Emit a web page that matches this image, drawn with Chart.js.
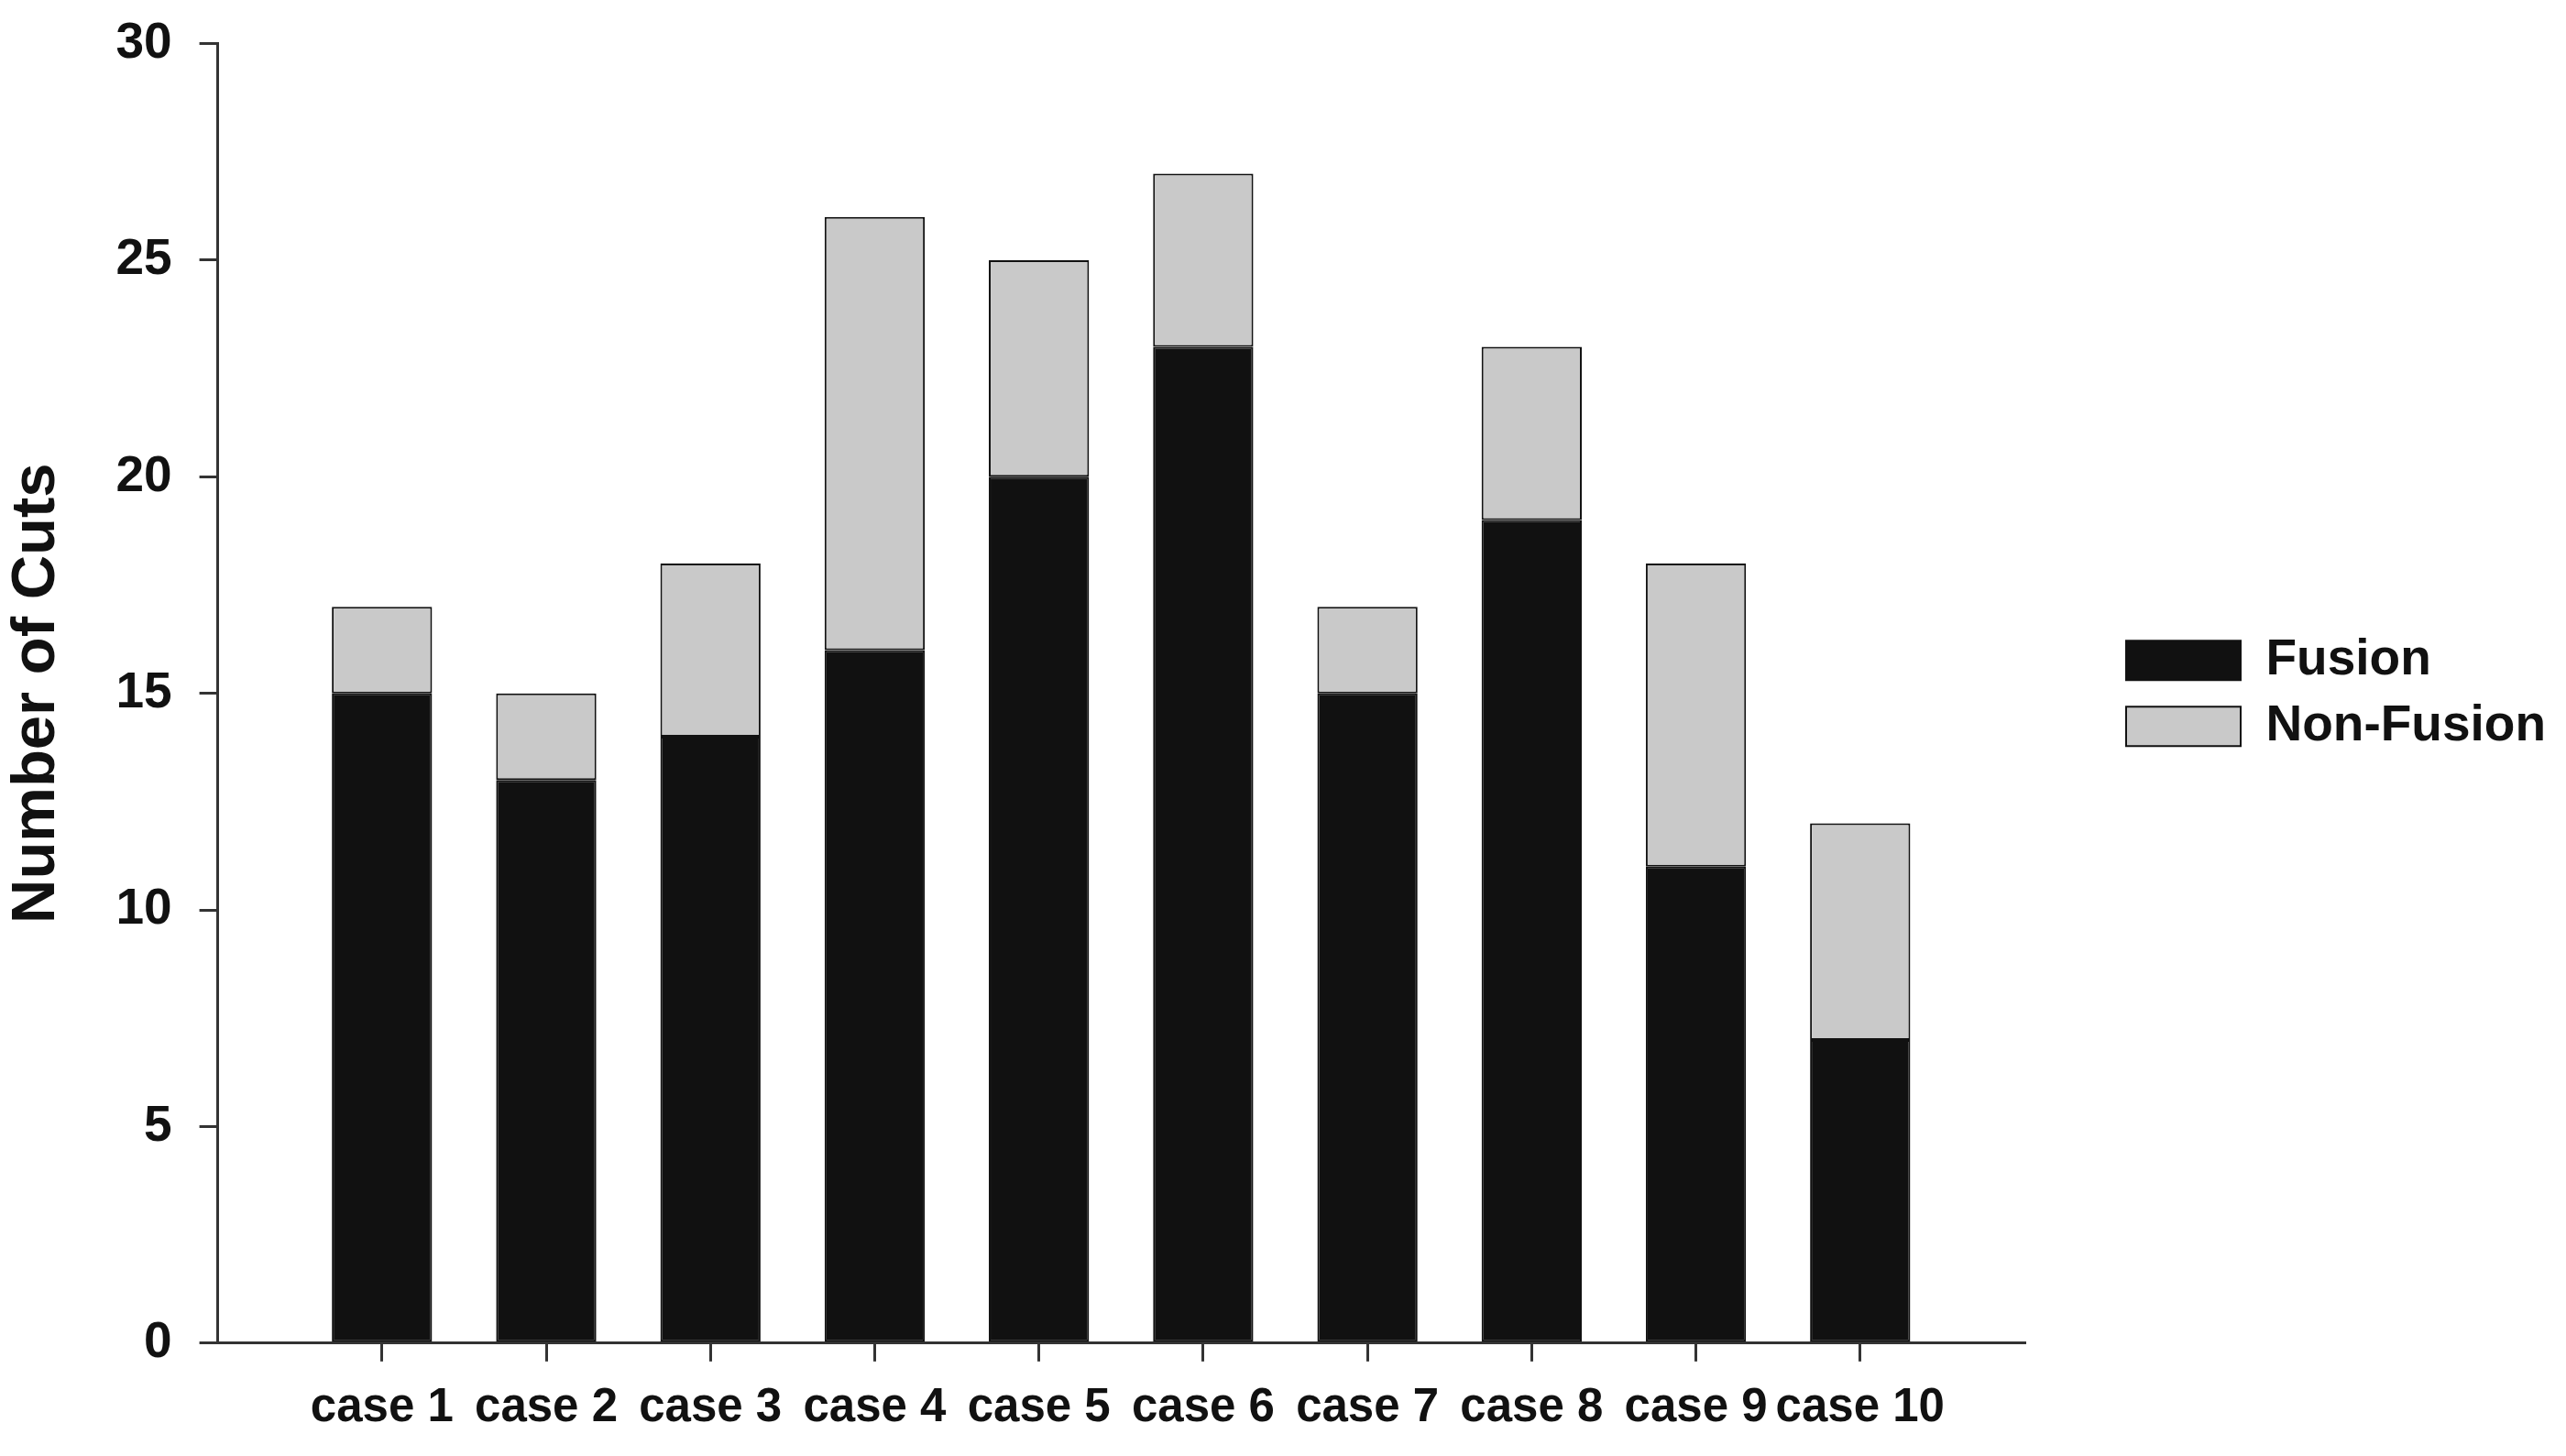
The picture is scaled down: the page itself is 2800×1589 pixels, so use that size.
<!DOCTYPE html>
<html>
<head>
<meta charset="utf-8">
<title>Number of Cuts</title>
<script src="https://cdn.jsdelivr.net/npm/chart.js@4.4.1/dist/chart.umd.min.js"></script>
<style>
    html, body { margin: 0; padding: 0; background: #fff; }
    #wrap { width: 2800px; height: 1589px; position: relative; }
</style>
</head>
<body>
<div id="wrap"><canvas id="cutsChart"></canvas></div>
<script>
const cases = ['case 1', 'case 2', 'case 3', 'case 4', 'case 5', 'case 6', 'case 7', 'case 8', 'case 9', 'case 10'];
const fusion = [15, 13, 14, 16, 20, 23, 15, 19, 11, 7];
const nonFusion = [2, 2, 4, 10, 5, 4, 2, 4, 7, 5];
const yTicks = [0, 5, 10, 15, 20, 25, 30];

const ink = '#111111';
const axisInk = '#333333';
const font = 'Liberation Sans, Arial, Helvetica, sans-serif';

document.addEventListener('DOMContentLoaded', () => {
    // bars sit at x = 1..10 on a 0..11 axis, so there is a full slot of room at each end
    const toPoints = values => values.map((v, i) => ({ x: i + 1, y: v }));

    const data = {
        datasets: [{
            label: 'Fusion',
            data: toPoints(fusion),
            backgroundColor: ink,
            borderColor: ink,
            borderWidth: 2,
            borderSkipped: false
        }, {
            label: 'Non-Fusion',
            data: toPoints(nonFusion),
            backgroundColor: '#c9c9c9',
            borderColor: ink,
            borderWidth: 2,
            borderSkipped: false
        }]
    };

    const options = {
        responsive: true,
        maintainAspectRatio: false,
        animation: false,
        barPercentage: 0.61,
        categoryPercentage: 1,
        layout: { padding: { top: 0, right: 12, bottom: 0, left: 0 } },
        scales: {
            x: {
                type: 'linear',
                stacked: true,
                offset: false,
                min: 0,
                max: cases.length + 1,
                afterBuildTicks: scale => {
                    scale.ticks = cases.map((c, i) => ({ value: i + 1 }));
                },
                grid: { offset: false, drawOnChartArea: false, drawTicks: true, tickLength: 20, color: axisInk, lineWidth: 3 },
                border: { display: true, color: axisInk, width: 3 },
                ticks: {
                    autoSkip: false,
                    maxRotation: 0,
                    padding: 21,
                    color: ink,
                    font: { family: font, size: 51, weight: 'bold' },
                    callback: v => cases[v - 1]
                }
            },
            y: {
                stacked: true,
                min: yTicks[0],
                max: yTicks[yTicks.length - 1],
                afterBuildTicks: scale => {
                    scale.ticks = yTicks.map(v => ({ value: v }));
                },
                grid: { drawOnChartArea: false, drawTicks: true, tickLength: 20, color: axisInk, lineWidth: 3 },
                border: { display: true, color: axisInk, width: 3 },
                ticks: {
                    padding: 30,
                    color: ink,
                    font: { family: font, size: 55, weight: 'bold', lineHeight: 0.64 }
                },
                title: {
                    display: true,
                    text: 'Number of Cuts',
                    color: ink,
                    padding: { top: 0, bottom: 16 },
                    font: { family: font, size: 67, weight: 'bold' }
                }
            },
            // hidden spacer between the plot and the legend
            gap: {
                type: 'linear',
                position: 'right',
                display: false,
                afterFit: scale => { scale.width = 94; }
            }
        },
        plugins: {
            tooltip: { enabled: false },
            legend: {
                position: 'right',
                fullSize: false,
                labels: {
                    boxWidth: 125,
                    boxHeight: 43,
                    padding: 17,
                    color: ink,
                    font: { family: font, size: 55, weight: 'bold' }
                }
            }
        }
    };

    const ctx = document.getElementById('cutsChart').getContext('2d');
    new Chart(ctx, { type: 'bar', data: data, options: options });
});
</script>
</body>
</html>
